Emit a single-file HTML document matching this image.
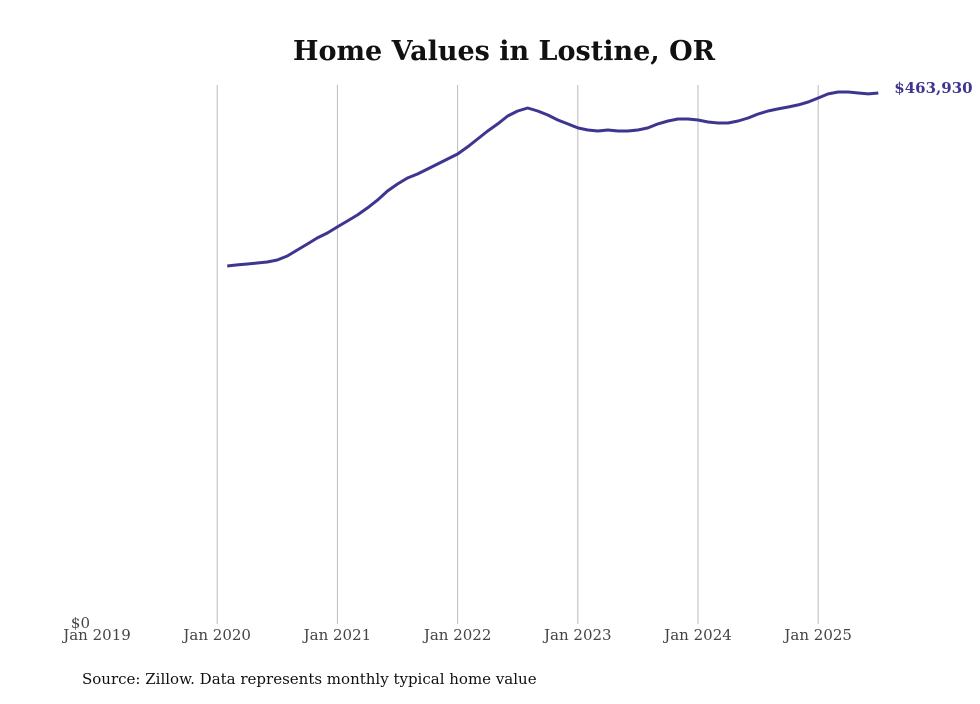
<!DOCTYPE html>
<html><head><meta charset="utf-8"><style>
body{margin:0;background:#fff;}
svg text{font-family:"DejaVu Serif","Liberation Serif",serif;}
</style></head><body>
<svg width="980" height="699" viewBox="0 0 980 699">
<text x="504" y="60" text-anchor="middle" font-size="27" font-weight="bold" fill="#111">Home Values in Lostine, OR</text>
<g id="grid"></g>
<g id="xt"></g>
<text x="90" y="628" text-anchor="end" font-size="15" fill="#444">$0</text>
<path id="line" fill="none" stroke="#3d3590" stroke-width="3" stroke-linejoin="round"/>
<text id="endlabel" font-size="15" font-weight="bold" fill="#3d3590"></text>
<text x="82" y="684" font-size="15" fill="#111">Source: Zillow. Data represents monthly typical home value</text>
</svg>
<script>
const tickLabels=["Jan 2019","Jan 2020","Jan 2021","Jan 2022","Jan 2023","Jan 2024","Jan 2025"];
const startMonthIndex=13; // months since Jan 2019 (Feb 2020)
const values=[312.8,313.7,314.5,315.4,316.3,318.0,321.5,326.8,332.0,337.3,341.6,346.9,352.1,357.3,363.5,370.4,378.3,384.4,389.7,393.2,397.5,401.9,406.3,410.6,416.8,423.7,430.7,436.9,443.8,448.2,450.8,448.2,444.7,440.3,436.9,433.4,431.6,430.7,431.6,430.7,430.7,431.6,433.4,436.9,439.5,441.2,441.2,440.3,438.6,437.7,437.7,439.5,442.1,445.6,448.2,450.0,451.7,453.5,456.1,459.6,463.1,464.8,464.8,463.9,463.1,463.93];
const lastLabel="$463,930";
const x=m=>97+m*(120.2/12);
const y=v=>624-v*(531/463.93);
const ns="http://www.w3.org/2000/svg";
const grid=document.getElementById('grid'),xt=document.getElementById('xt');
tickLabels.forEach((t,i)=>{
  const xx=x(i*12);
  if(i>0){const l=document.createElementNS(ns,'line');
  
  
  l.setAttribute('x1',xx);l.setAttribute('x2',xx);l.setAttribute('y1',85);l.setAttribute('y2',624);
  l.setAttribute('stroke','#bbb');l.setAttribute('stroke-width','1');grid.appendChild(l);}
  const tx=document.createElementNS(ns,'text');
  
  
  tx.setAttribute('x',xx);tx.setAttribute('y',640);tx.setAttribute('text-anchor','middle');
  tx.setAttribute('font-size','15');tx.setAttribute('fill','#444');tx.textContent=t;xt.appendChild(tx);
});
let d='';values.forEach((v,i)=>{d+=(i?'L':'M')+x(startMonthIndex+i).toFixed(1)+','+y(v).toFixed(1);});
document.getElementById('line').setAttribute('d',d);
const el=document.getElementById('endlabel');
el.setAttribute('x',x(startMonthIndex+values.length-1)+16);
el.setAttribute('y',y(values[values.length-1])+0);
el.textContent=lastLabel;
</script>
</body></html>
